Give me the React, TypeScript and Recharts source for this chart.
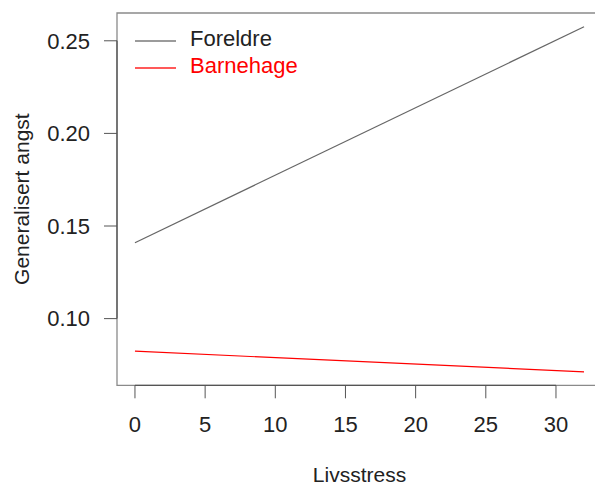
import React from 'react';
import {
  LineChart,
  Line,
  XAxis,
  YAxis,
  ReferenceArea,
  ReferenceLine,
  Legend,
  Label,
} from 'recharts';

// Verdier lest av figuren
const livsstress = [0, 32];
const foreldre = [0.141, 0.2576];
const barnehage = [0.0824, 0.0713];

const xTicks = [0, 5, 10, 15, 20, 25, 30];
const yTicks = [0.1, 0.15, 0.2, 0.25];

const seriesNames = ['Foreldre', 'Barnehage'];
const seriesColors = ['#666666', '#ff0000'];
const textColors = ['#222222', '#ff0000'];

const X_DOMAIN: [number, number] = [-1.28, 33.28];
const Y_DOMAIN: [number, number] = [0.064, 0.265];

const FONT = '"Liberation Sans", Arial, Helvetica, sans-serif';

const data = livsstress.map((x, i) => ({
  x,
  foreldre: foreldre[i],
  barnehage: barnehage[i],
}));

const LegendContent = () => (
  <div style={{ fontFamily: FONT, fontSize: 22 }}>
    {seriesNames.map((name, i) => (
      <div key={name} style={{ display: 'flex', alignItems: 'center', height: 27, lineHeight: '27px' }}>
        <div style={{ width: 41, height: 2, backgroundColor: seriesColors[i], opacity: 0.65 }} />
        <span style={{ marginLeft: 14, color: textColors[i], position: 'relative', top: -2 }}>{name}</span>
      </div>
    ))}
  </div>
);

const YTitle = ({ viewBox }: any) => {
  const cx = viewBox.x + 29;
  const cy = viewBox.y + viewBox.height / 2;
  return (
    <text
      x={cx}
      y={cy}
      transform={`rotate(-90, ${cx}, ${cy})`}
      textAnchor="middle"
      fill="#222"
      fontSize={21}
      fontFamily={FONT}
    >
      Generalisert angst
    </text>
  );
};

const XTitle = ({ viewBox }: any) => {
  const cx = viewBox.x + viewBox.width / 2;
  const by = viewBox.y + 97;
  return (
    <text x={cx} y={by} textAnchor="middle" fill="#222" fontSize={21} fontFamily={FONT}>
      Livsstress
    </text>
  );
};

const App: React.FC = () => {
  const tickStyle = { fill: '#222', fontSize: 22, fontFamily: FONT };
  return (
    <div
      style={{
        position: 'absolute',
        left: 0,
        top: 0,
        width: 595,
        height: 488,
        overflow: 'hidden',
        background: '#fff',
      }}
    >
      <LineChart width={610} height={488} data={data} margin={{ top: 13, right: 8, bottom: 0, left: 0 }}>
        <XAxis
          type="number"
          dataKey="x"
          domain={X_DOMAIN}
          ticks={xTicks}
          allowDataOverflow
          axisLine={false}
          tickLine={{ stroke: '#555' }}
          tickSize={13}
          tickMargin={18}
          height={102.7}
          tick={tickStyle}
          interval={0}
        >
          <Label content={<XTitle />} />
        </XAxis>
        <YAxis
          type="number"
          domain={Y_DOMAIN}
          ticks={yTicks}
          allowDataOverflow
          axisLine={false}
          tickLine={{ stroke: '#555' }}
          tickSize={13}
          tickMargin={14}
          width={117}
          tick={tickStyle}
          tickFormatter={(v: number) => v.toFixed(2)}
          interval={0}
        >
          <Label content={<YTitle />} />
        </YAxis>
        <ReferenceArea
          x1={X_DOMAIN[0]}
          x2={X_DOMAIN[1]}
          y1={Y_DOMAIN[0]}
          y2={Y_DOMAIN[1]}
          fill="none"
          stroke="#8a8a8a"
          strokeWidth={1.3}
          ifOverflow="visible"
        />
        <ReferenceLine
          segment={[
            { x: xTicks[0], y: Y_DOMAIN[0] },
            { x: xTicks[xTicks.length - 1], y: Y_DOMAIN[0] },
          ]}
          stroke="#555"
          strokeWidth={1.3}
          ifOverflow="visible"
        />
        <ReferenceLine
          segment={[
            { x: X_DOMAIN[0], y: yTicks[0] },
            { x: X_DOMAIN[0], y: yTicks[yTicks.length - 1] },
          ]}
          stroke="#555"
          strokeWidth={1.3}
          ifOverflow="visible"
        />
        <Legend
          content={<LegendContent />}
          layout="horizontal"
          verticalAlign="middle"
          align="center"
          wrapperStyle={{ left: 135, top: 27.2, width: 'auto', height: 'auto' }}
        />
        <Line
          type="linear"
          dataKey="foreldre"
          name={seriesNames[0]}
          stroke={seriesColors[0]}
          strokeWidth={1.2}
          dot={false}
          isAnimationActive={false}
        />
        <Line
          type="linear"
          dataKey="barnehage"
          name={seriesNames[1]}
          stroke={seriesColors[1]}
          strokeWidth={1.2}
          dot={false}
          isAnimationActive={false}
        />
      </LineChart>
    </div>
  );
};

export default App;
